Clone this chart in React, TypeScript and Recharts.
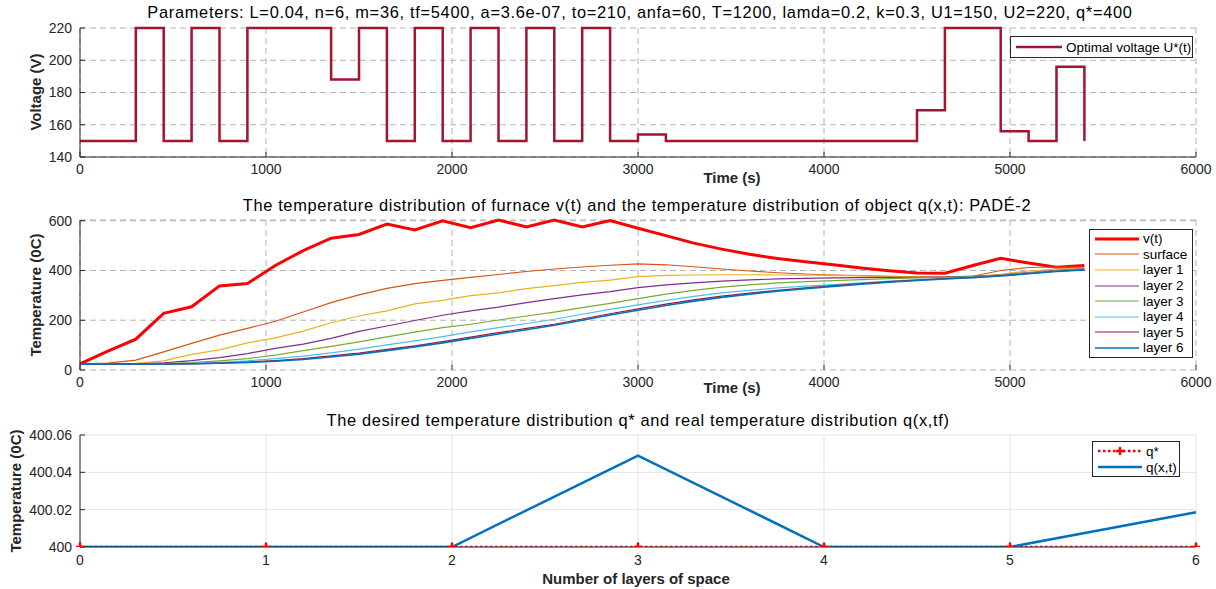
import React from 'react';
import { LineChart, Line, XAxis, YAxis, CartesianGrid, Legend } from 'recharts';

const FONT = '"Liberation Sans", Arial, Helvetica, sans-serif';
const AXIS = '#262626';
const GRID = '#b4b4b4';

// optimal voltage U*(t): switching instants and levels (held until next instant)
const uTimes = [0, 300, 450, 600, 750, 900, 1350, 1500, 1650, 1800, 1950, 2100, 2250, 2400, 2550, 2700, 2850, 3000, 3150, 4500, 4650, 4950, 5100, 5250, 5400];
const uVolts = [150, 220, 150, 220, 150, 220, 188, 220, 150, 220, 150, 220, 150, 220, 150, 220, 150, 154, 150, 169, 220, 156, 150, 196, 150];

// furnace and object temperatures, every 150 s
const tempTimes = [0, 150, 300, 450, 600, 750, 900, 1050, 1200, 1350, 1500, 1650, 1800, 1950, 2100, 2250, 2400, 2550, 2700, 2850, 3000, 3150, 3300, 3450, 3600, 3750, 3900, 4050, 4200, 4350, 4500, 4650, 4800, 4950, 5100, 5250, 5400];
const vFurnace = [25, 76, 124, 228, 254, 338, 348, 420, 480, 530, 545, 587, 563, 600, 572, 603, 575, 603, 575, 601, 570, 540, 510, 486, 465, 448, 435, 423, 410, 399, 390, 389, 420, 449, 430, 413, 420];
const surface = [24, 28, 40, 73, 107, 140, 167, 196, 233, 271, 302, 328, 347, 360, 372, 384, 396, 406, 414, 421, 427, 423, 415, 406, 398, 391, 386, 382, 379, 376, 374, 373, 377, 400, 412, 414, 413];
const layer1 = [24, 25, 27, 37, 63, 81, 109, 129, 156, 190, 217, 238, 266, 280, 299, 310, 327, 339, 352, 361, 375, 380, 382, 383, 383, 382, 381, 380, 378, 376, 374, 373, 375, 385, 398, 406, 410];
const layer2 = [24, 24, 25, 29, 38, 50, 66, 87, 104, 127, 155, 177, 199, 220, 238, 253, 271, 287, 302, 315, 331, 342, 350, 357, 362, 366, 368, 370, 371, 372, 372, 373, 376, 382, 392, 401, 407];
const layer3 = [24, 24, 24, 26, 30, 37, 46, 60, 78, 95, 113, 133, 152, 170, 184, 201, 217, 233, 251, 268, 287, 305, 320, 333, 342, 350, 355, 359, 363, 367, 370, 372, 375, 381, 390, 399, 405];
const layer4 = [24, 24, 24, 25, 27, 31, 37, 46, 56, 69, 84, 101, 117, 134, 153, 170, 187, 204, 224, 244, 262, 280, 296, 310, 320, 330, 337, 343, 350, 357, 363, 368, 373, 380, 389, 398, 404];
const layer5 = [24, 24, 24, 24, 25, 28, 32, 38, 46, 57, 68, 83, 97, 114, 132, 150, 167, 184, 205, 226, 246, 265, 282, 297, 309, 320, 330, 339, 347, 355, 361, 367, 372, 379, 388, 397, 403];
const layer6 = [24, 24, 24, 24, 25, 27, 30, 35, 42, 52, 64, 78, 93, 109, 127, 145, 162, 180, 200, 221, 240, 259, 277, 292, 305, 317, 327, 336, 345, 353, 360, 366, 371, 378, 387, 396, 402];

// final distribution over the layers
const layerIdx = [0, 1, 2, 3, 4, 5, 6];
const qStar = [400, 400, 400, 400, 400, 400, 400];
const qFinal = [400, 400, 400, 400.049, 400, 400, 400.0186];

const timeTicks = [0, 1000, 2000, 3000, 4000, 5000, 6000];
const voltTicks = [140, 160, 180, 200, 220];
const tempTicks = [0, 200, 400, 600];
const qTicks = [400, 400.02, 400.04, 400.06];

const voltData = uTimes.map((t, i) => ({ t, u: uVolts[i] }));
const tempData = tempTimes.map((t, i) => ({
  t, v: vFurnace[i], s: surface[i], l1: layer1[i], l2: layer2[i], l3: layer3[i], l4: layer4[i], l5: layer5[i], l6: layer6[i],
}));
const qData = layerIdx.map((x, i) => ({ x, qs: qStar[i], q: qFinal[i] }));

const tempSeries = [
  { key: 'v', name: 'v(t)', color: '#FF0000', w: 3 },
  { key: 's', name: 'surface', color: '#D95319', w: 1.2 },
  { key: 'l1', name: 'layer 1', color: '#EDB120', w: 1.2 },
  { key: 'l2', name: 'layer 2', color: '#7E2F8E', w: 1.2 },
  { key: 'l3', name: 'layer 3', color: '#77AC30', w: 1.2 },
  { key: 'l4', name: 'layer 4', color: '#4DBEEE', w: 1.2 },
  { key: 'l5', name: 'layer 5', color: '#A2142F', w: 1.2 },
  { key: 'l6', name: 'layer 6', color: '#0072BD', w: 1.6 },
];

const tick = { fill: AXIS, fontSize: 14, fontFamily: FONT };

function LegendBox({ items, lineW, rowH }: any) {
  return (
    <div style={{ border: '1px solid #262626', background: '#fff', padding: '1px 4px 1px 5px', fontFamily: FONT, fontSize: 13.5, color: '#000' }}>
      {items.map((it: any) => (
        <div key={it.name} style={{ display: 'flex', alignItems: 'center', height: rowH }}>
          <svg width={lineW} height={12} style={{ flex: 'none' }}>
            <line x1={0} x2={lineW} y1={6} y2={6} stroke={it.color} strokeWidth={it.w} strokeDasharray={it.dash} />
            {it.plus && <path d={`M${lineW / 2 - 4},6h8M${lineW / 2},2v8`} stroke={it.color} strokeWidth={2.5} />}
          </svg>
          <span style={{ marginLeft: 4, whiteSpace: 'nowrap' }}>{it.name}</span>
        </div>
      ))}
    </div>
  );
}

function Plus(props: any) {
  const { cx, cy, index } = props;
  return <path key={`p${index}`} d={`M${cx - 4},${cy}h8M${cx},${cy - 4}v8`} stroke="#FF0000" strokeWidth={2.5} fill="none" />;
}

const abs = (x: number, y: number, extra: any = {}) => ({
  position: 'absolute' as const, left: x, top: y, transform: 'translate(-50%,-50%)', whiteSpace: 'nowrap' as const, fontFamily: FONT, color: '#000', ...extra,
});

export default function App() {
  return (
    <div style={{ position: 'absolute', left: 0, top: 0, width: 1216, height: 589, background: '#fff', overflow: 'hidden' }}>
      {/* voltage */}
      <div style={{ position: 'absolute', left: 0, top: 0 }}>
        <LineChart width={1216} height={190} data={voltData} margin={{ top: 28, right: 20, bottom: 8, left: 20 }}>
          <CartesianGrid stroke={GRID} strokeDasharray="6 4" />
          <XAxis dataKey="t" type="number" domain={[0, 6000]} ticks={timeTicks} height={25} tick={tick} tickSize={-5} tickMargin={12} stroke={AXIS} />
          <XAxis xAxisId="top" orientation="top" type="number" domain={[0, 6000]} ticks={timeTicks} height={0} tickSize={-5} tickFormatter={() => ''} stroke={AXIS} />
          <YAxis type="number" domain={[140, 220]} ticks={voltTicks} width={60} tick={tick} tickSize={-5} tickMargin={13} stroke={AXIS} />
          <YAxis yAxisId="r" orientation="right" type="number" domain={[140, 220]} ticks={voltTicks} width={0} tickSize={-5} tickFormatter={() => ''} stroke={AXIS} />
          <Line type="stepAfter" dataKey="u" stroke="#A2142F" strokeWidth={2.5} dot={false} isAnimationActive={false} />
          <Legend layout="vertical" align="center" verticalAlign="middle"
            wrapperStyle={{ left: 1010, top: 36, width: 183, height: 22 }}
            content={() => <LegendBox lineW={46} rowH={18} items={[{ name: 'Optimal voltage U*(t)', color: '#A2142F', w: 2.5 }]} />} />
        </LineChart>
      </div>

      {/* temperatures */}
      <div style={{ position: 'absolute', left: 0, top: 195 }}>
        <LineChart width={1216} height={200} data={tempData} margin={{ top: 25, right: 20, bottom: 0, left: 20 }}>
          <CartesianGrid stroke={GRID} strokeDasharray="6 4" />
          <XAxis dataKey="t" type="number" domain={[0, 6000]} ticks={timeTicks} height={25} tick={tick} tickSize={-5} tickMargin={12} axisLine={false} stroke={AXIS} />
          <XAxis xAxisId="top" orientation="top" type="number" domain={[0, 6000]} ticks={timeTicks} height={0} tickSize={-5} tickFormatter={() => ''} axisLine={false} stroke={AXIS} />
          <YAxis type="number" domain={[0, 600]} ticks={tempTicks} width={60} tick={tick} tickSize={-5} tickMargin={13} stroke={AXIS} />
          <YAxis yAxisId="r" orientation="right" type="number" domain={[0, 600]} ticks={tempTicks} width={0} tickSize={-5} tickFormatter={() => ''} stroke={AXIS} />
          {tempSeries.map((s) => (
            <Line key={s.key} type="linear" dataKey={s.key} name={s.name} stroke={s.color} strokeWidth={s.w} dot={false} isAnimationActive={false} />
          ))}
          <Legend layout="vertical" align="center" verticalAlign="middle"
            wrapperStyle={{ left: 1089, top: 34, width: 104, height: 128 }}
            content={() => <LegendBox lineW={44} rowH={15.6} items={tempSeries} />} />
        </LineChart>
      </div>

      {/* final distribution */}
      <div style={{ position: 'absolute', left: 0, top: 410 }}>
        <LineChart width={1216} height={180} data={qData} margin={{ top: 25, right: 20, bottom: 18, left: 20 }}>
          <CartesianGrid stroke="#e3e3e3" />
          <XAxis dataKey="x" type="number" domain={[0, 6]} ticks={layerIdx} height={25} tick={tick} tickSize={-5} tickMargin={13} stroke={AXIS} />
          <XAxis xAxisId="top" orientation="top" type="number" domain={[0, 6]} ticks={layerIdx} height={0} tickSize={-5} tickFormatter={() => ''} stroke={AXIS} />
          <YAxis type="number" domain={[400, 400.06]} ticks={qTicks} width={60} tick={tick} tickSize={-5} tickMargin={13} stroke={AXIS}
            tickFormatter={(v: number) => String(Math.round(v * 100) / 100)} allowDataOverflow />
          <YAxis yAxisId="r" orientation="right" type="number" domain={[400, 400.06]} ticks={qTicks} width={0} tickSize={-5} tickFormatter={() => ''} stroke={AXIS} />
          <Line type="linear" dataKey="qs" name="q*" stroke="#FF0000" strokeWidth={2.5} strokeDasharray="2.5 2.5" dot={Plus} isAnimationActive={false} />
          <Line type="linear" dataKey="q" name="q(x,t)" stroke="#0072BD" strokeWidth={2.5} dot={false} isAnimationActive={false} />
          <Legend layout="vertical" align="center" verticalAlign="middle"
            wrapperStyle={{ left: 1092, top: 31, width: 88, height: 35 }}
            content={() => <LegendBox lineW={44} rowH={16} items={[
              { name: 'q*', color: '#FF0000', w: 2.5, dash: '2.5 2.5', plus: true },
              { name: 'q(x,t)', color: '#0072BD', w: 2.5 },
            ]} />} />
        </LineChart>
      </div>

      <div style={abs(640, 12, { fontSize: 16.4, letterSpacing: 0.7 })}>Parameters: L=0.04, n=6, m=36, tf=5400, a=3.6e-07, to=210, anfa=60, T=1200, lamda=0.2, k=0.3, U1=150, U2=220, q*=400</div>
      <div style={abs(637, 205, { fontSize: 16.4, letterSpacing: 0.65 })}>The temperature distribution of furnace v(t) and the temperature distribution of object q(x,t): PADÉ-2</div>
      <div style={abs(638, 420, { fontSize: 16.4, letterSpacing: 0.65 })}>The desired temperature distribution q* and real temperature distribution q(x,tf)</div>
      <div style={abs(732, 177, { fontSize: 15, fontWeight: 'bold', color: AXIS })}>Time (s)</div>
      <div style={abs(732, 387, { fontSize: 15, fontWeight: 'bold', color: AXIS })}>Time (s)</div>
      <div style={abs(636, 578, { fontSize: 15, fontWeight: 'bold', color: AXIS })}>Number of layers of space</div>
      <div style={abs(35, 92, { fontSize: 15, fontWeight: 'bold', color: AXIS, transform: 'translate(-50%,-50%) rotate(-90deg)' })}>Voltage (V)</div>
      <div style={abs(35, 295, { fontSize: 15, fontWeight: 'bold', color: AXIS, transform: 'translate(-50%,-50%) rotate(-90deg)' })}>Temperature (0C)</div>
      <div style={abs(15, 491, { fontSize: 15, fontWeight: 'bold', color: AXIS, transform: 'translate(-50%,-50%) rotate(-90deg)' })}>Temperature (0C)</div>
    </div>
  );
}
